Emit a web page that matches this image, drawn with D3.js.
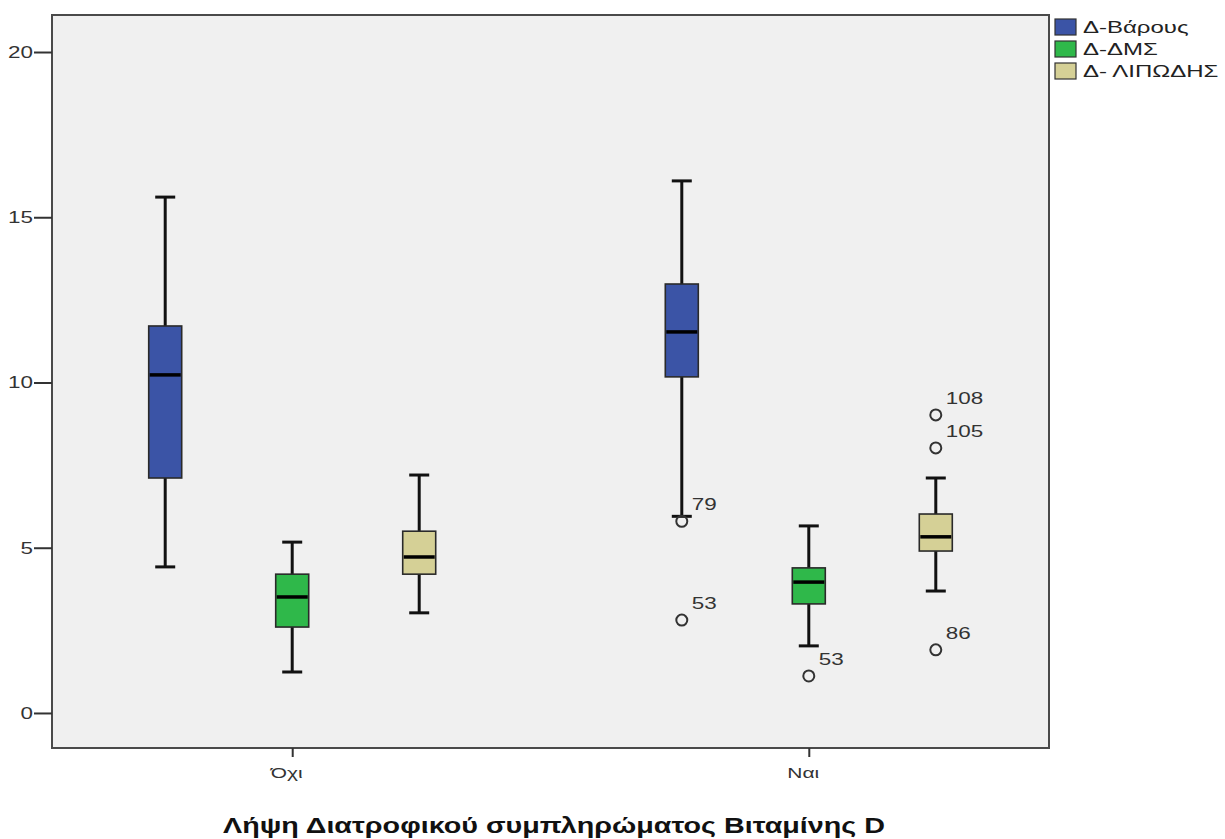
<!DOCTYPE html>
<html>
<head>
<meta charset="utf-8">
<script src="https://cdn.jsdelivr.net/npm/d3@7"></script>
<style>
  body { margin: 0; background: #ffffff; }
  svg { display: block; }
  text { font-family: "Liberation Sans", Arial, sans-serif; }
</style>
</head>
<body>
<svg id="chart" width="1225" height="839"></svg>
<script>
// Groups on the x axis and the three measured series
const groups = ["Όχι", "Ναι"];
const seriesNames = ["Δ-Βάρους", "Δ-ΔΜΣ", "Δ- ΛΙΠΩΔΗΣ"];
const seriesColors = ["#3b54a6", "#2fb84a", "#d5d096"];

// Five-number summaries per group: [lower whisker, Q1, median, Q3, upper whisker]
const weightStats = [[4.42, 7.11, 10.23, 11.71, 15.61], [5.95, 10.17, 11.53, 12.98, 16.1]];
const bmiStats    = [[1.24, 2.6, 3.51, 4.2, 5.17],      [2.03, 3.3, 3.96, 4.39, 5.66]];
const fatStats    = [[3.03, 4.2, 4.72, 5.5, 7.2],       [3.69, 4.9, 5.33, 6.02, 7.11]];

// Outlying cases: group index, series index, value, case number
const outlierGroup  = [1, 1, 1, 1, 1, 1];
const outlierSeries = [0, 0, 1, 2, 2, 2];
const outlierValue  = [5.8, 2.81, 1.12, 9.02, 8.02, 1.91];
const outlierCase   = ["79", "53", "53", "108", "105", "86"];

const yTicks = [0, 5, 10, 15, 20];
const xTitle = "Λήψη Διατροφικού συμπληρώματος Βιταμίνης D";

const allStats = [weightStats, bmiStats, fatStats];
const boxes = [];
groups.forEach((g, gi) => {
  seriesNames.forEach((s, si) => {
    const st = allStats[si][gi];
    boxes.push({ group: g, series: s, si, lo: st[0], q1: st[1], med: st[2], q3: st[3], hi: st[4] });
  });
});
const outliers = outlierValue.map((v, i) => ({
  group: groups[outlierGroup[i]], si: outlierSeries[i], value: v, label: outlierCase[i]
}));

const svg = d3.select("#chart");
const plot = { left: 52, right: 1049, top: 15, bottom: 748 };

const x = d3.scalePoint().domain(groups).range([plot.left, plot.right]).padding(0.465);
const xInner = d3.scaleBand().domain(d3.range(3)).range([-190.5, 190.5]);
const y = d3.scaleLinear().domain([-1.06, 21.12]).range([plot.bottom, plot.top]);

const boxW = 33, capW = 20;
const cx = d => x(d.group) + xInner(d.si) + xInner.bandwidth() / 2;

// labels are drawn in a wide sans, stretched horizontally
const wide = 1.32;

// plot background and frame
svg.append("rect")
  .attr("x", plot.left).attr("y", plot.top)
  .attr("width", plot.right - plot.left).attr("height", plot.bottom - plot.top)
  .attr("fill", "#f0f0f0").attr("stroke", "#4a4a4a").attr("stroke-width", 2);

// y axis
const yAxis = d3.axisLeft(y).tickValues(yTicks).tickSize(18).tickPadding(2);
const ya = svg.append("g").attr("transform", `translate(${plot.left},0)`).call(yAxis);
ya.select(".domain").remove();
ya.selectAll(".tick line").attr("stroke", "#333").attr("stroke-width", 2);
ya.selectAll(".tick text")
  .attr("x", 0)
  .attr("transform", `translate(-19,0) scale(${wide},1)`)
  .attr("fill", "#333").attr("font-size", 17)
  .attr("font-family", "Liberation Sans, Arial, sans-serif");

// x axis
const xAxis = d3.axisBottom(x).tickSize(9).tickPadding(10);
const xa = svg.append("g").attr("transform", `translate(0,${plot.bottom})`).call(xAxis);
xa.select(".domain").remove();
xa.selectAll(".tick line").attr("stroke", "#333").attr("stroke-width", 2);
xa.selectAll(".tick text")
  .attr("transform", `translate(-6,0) scale(1.4,1)`)
  .attr("fill", "#333").attr("font-size", 15)
  .attr("font-family", "Liberation Sans, Arial, sans-serif");

// x axis title
svg.append("text")
  .attr("x", 554).attr("y", 833)
  .attr("text-anchor", "middle")
  .attr("font-family", "DejaVu Sans, sans-serif")
  .attr("font-weight", "bold")
  .attr("font-size", 22)
  .attr("fill", "#111")
  .attr("textLength", 662).attr("lengthAdjust", "spacingAndGlyphs")
  .text(xTitle);

// box plots
const bg = svg.append("g");
boxes.forEach(d => {
  const c = cx(d);
  const g = bg.append("g");
  // whiskers
  g.append("line").attr("x1", c).attr("x2", c).attr("y1", y(d.hi)).attr("y2", y(d.q3))
    .attr("stroke", "#111").attr("stroke-width", 3);
  g.append("line").attr("x1", c).attr("x2", c).attr("y1", y(d.q1)).attr("y2", y(d.lo))
    .attr("stroke", "#111").attr("stroke-width", 3);
  [d.hi, d.lo].forEach(v => {
    g.append("line").attr("x1", c - capW / 2).attr("x2", c + capW / 2)
      .attr("y1", y(v)).attr("y2", y(v)).attr("stroke", "#111").attr("stroke-width", 3);
  });
  // box
  g.append("rect").attr("x", c - boxW / 2).attr("y", y(d.q3))
    .attr("width", boxW).attr("height", y(d.q1) - y(d.q3))
    .attr("fill", seriesColors[d.si]).attr("stroke", "#2a2a2a").attr("stroke-width", 1.6);
  // median
  g.append("line").attr("x1", c - boxW / 2 + 1).attr("x2", c + boxW / 2 - 1)
    .attr("y1", y(d.med)).attr("y2", y(d.med)).attr("stroke", "#000").attr("stroke-width", 3.5);
});

// outliers with case labels
outliers.forEach(o => {
  const c = x(o.group) + xInner(o.si) + xInner.bandwidth() / 2;
  svg.append("circle").attr("cx", c).attr("cy", y(o.value)).attr("r", 5.5)
    .attr("fill", "none").attr("stroke", "#333").attr("stroke-width", 2);
  svg.append("text")
    .attr("transform", `translate(${c + 10},${y(o.value) - 11}) scale(${wide},1)`)
    .attr("font-size", 17).attr("fill", "#333").text(o.label);
});

// legend
const lg = svg.append("g").attr("transform", "translate(1055,19)");
seriesNames.forEach((s, i) => {
  const row = lg.append("g").attr("transform", `translate(0,${i * 22})`);
  row.append("rect").attr("x", 0).attr("y", 0).attr("width", 21).attr("height", 16)
    .attr("fill", seriesColors[i]).attr("stroke", "#333").attr("stroke-width", 1.2);
  row.append("text")
    .attr("transform", "translate(28,14) scale(1.5,1)")
    .attr("font-size", 16).attr("fill", "#222").text(s);
});
</script>
</body>
</html>
